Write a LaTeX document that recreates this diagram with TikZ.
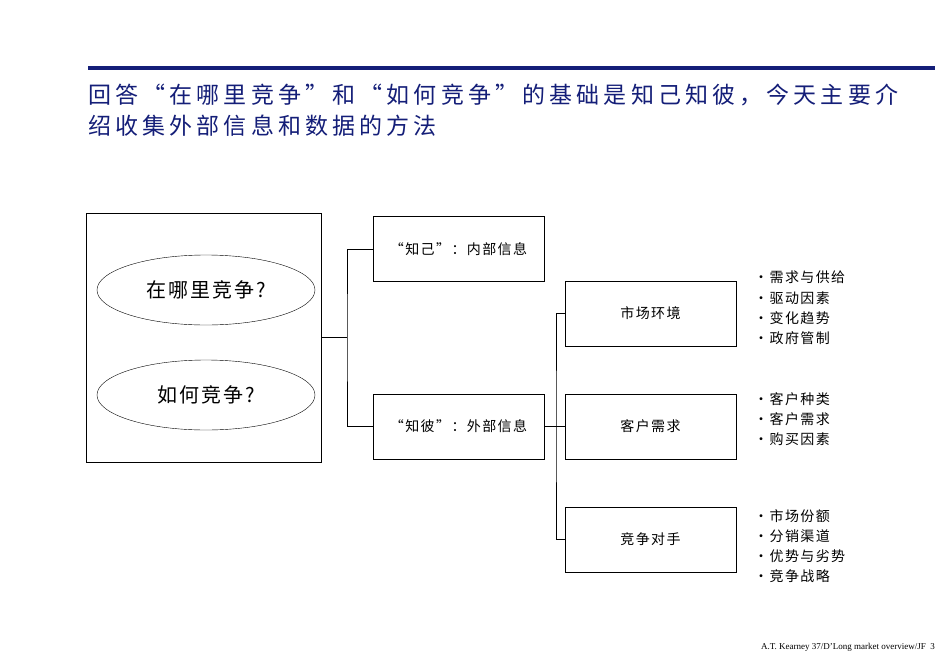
\documentclass[tikz,border=0pt]{standalone}
\usepackage{fontspec}
\setmainfont{Liberation Serif}
\newfontfamily\cjk{Noto Sans CJK SC}
\newfontfamily\cjktitle[LetterSpace=18]{Noto Sans CJK SC}
\newfontfamily\cjkwide[LetterSpace=10]{Noto Sans CJK SC}
\usetikzlibrary{shapes.geometric}
\definecolor{navy}{RGB}{20,30,120}
\begin{document}
\begin{tikzpicture}[x=1pt,y=-1pt,
		box/.style = {draw,thin,minimum width=171pt,minimum height=65pt,font=\cjkwide\fontsize{14}{16}\selectfont},
		oval/.style = {draw,thin,ellipse,minimum width=218pt,minimum height=70pt,font=\cjkwide\itshape\fontsize{20}{23}\selectfont},
		items/.style = {anchor=north west,align=left,inner sep=0pt,font=\cjkwide\fontsize{14}{20.3}\selectfont}
		]
	\useasboundingbox (0,0) rectangle (950,656);

	% title
	\draw[navy,line width=4pt] (88,68) -- (935,68);
	\node[anchor=north west,align=left,inner sep=0pt,text=navy,font=\cjktitle\fontsize{23}{31}\selectfont] (title) at (88,84)
		{回答“在哪里竞争”和“如何竞争”的基础是知己知彼，今天主要介\\绍收集外部信息和数据的方法};

	% left block
	\node[draw,thin,minimum width=235pt,minimum height=249pt] (frame) at (203.5,337.5) {};
	\node[oval] (where) at (206,290) {在哪里竞争?};
	\node[oval] (how) at (206,395) {如何竞争?};

	% middle boxes
	\node[box] (self) at (458.5,249) {“知己”：内部信息};
	\node[box] (other) at (458.5,426.5) {“知彼”：外部信息};

	% right boxes
	\node[box] (market) at (650.5,313.5) {市场环境};
	\node[box] (client) at (650.5,426.5) {客户需求};
	\node[box] (rival) at (650.5,539.5) {竞争对手};

	% connectors
	\coordinate (j1) at (347,337.5);
	\coordinate (j2) at (556,426.5);
	\draw[thin] (frame.east) -- (j1);
	\draw[thin] (self.west) -| (j1) |- (other.west);
	\draw[thin] (other.east) -- (j2);
	\draw[thin] (market.west) -| (j2) |- (rival.west);
	\draw[thin] (j2) -- (client.west);

	% lists
	\node[items] (l1) at (754,271) {•需求与供给\\•驱动因素\\•变化趋势\\•政府管制};
	\node[items] (l2) at (754,392) {•客户种类\\•客户需求\\•购买因素};
	\node[items] (l3) at (754,509) {•市场份额\\•分销渠道\\•优势与劣势\\•竞争战略};

	% footer
	\node[anchor=east,inner sep=0pt,font=\fontsize{9}{11}\selectfont] (foot) at (935,647) {A.T. Kearney 37/D’Long market overview/JF\ \ 3};
\end{tikzpicture}
\end{document}
